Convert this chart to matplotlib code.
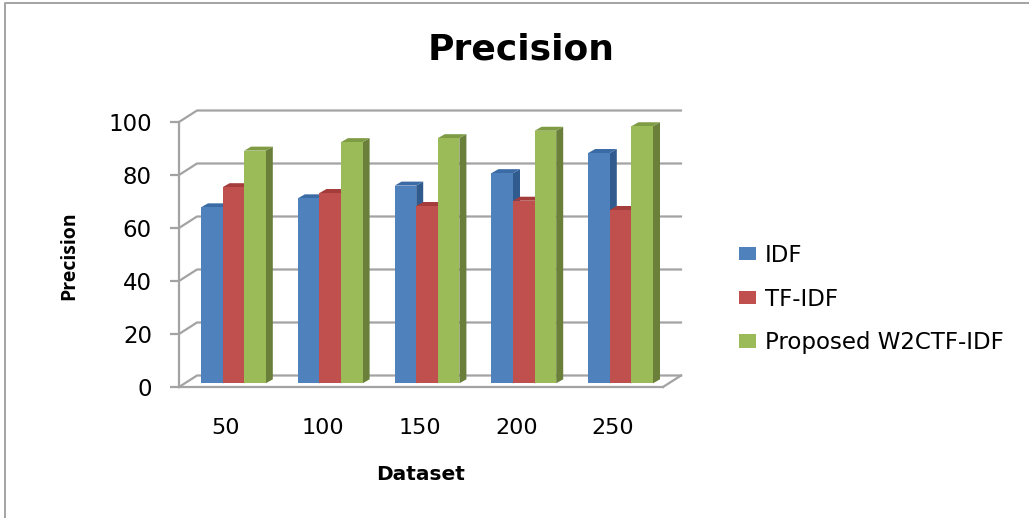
import matplotlib
matplotlib.use("Agg")
import matplotlib.pyplot as plt
from matplotlib.lines import Line2D
from matplotlib.transforms import ScaledTranslation
import numpy as np

datasets = ["50", "100", "150", "200", "250"]
idf = [66.4, 69.8, 74.6, 79.3, 86.9]
tf_idf = [74.0, 71.8, 66.9, 68.9, 65.4]
w2ctf_idf = [87.8, 91.0, 92.5, 95.3, 97.0]
series_names = ["IDF", "TF-IDF", "Proposed W2CTF-IDF"]
y_ticks = [0, 20, 40, 60, 80, 100]

grey = "#a3a3a3"
colors = [("#4f81bd", "#2f5b8f", "#3b6ba5"),
          ("#c0504d", "#8c3331", "#a33c3a"),
          ("#9bbb59", "#697f3a", "#7f9c44")]

W, H = 1029, 518
fig = plt.figure(figsize=(W / 100, H / 100), dpi=100)
ax = fig.add_axes([179 / W, (H - 387) / H, 484 / W, 265 / H])
ax.set_xlim(-0.5, 4.5)
ax.set_ylim(0, 100)

# pixel sizes of the fake 3d look, turned into data units
px_x = 5 / 484
px_y = 100 / 265
wall_dx, wall_dy = 18 * px_x, 11.5 * px_y
base_dx, base_dy = 6 * px_x, 3.7 * px_y
depth_dx, depth_dy = 7 * px_x, 4 * px_y
bar_w = 21.6 * px_x

# walls
for t in y_ticks:
    ax.plot([-0.5, -0.5 + wall_dx, 4.5 + wall_dx], [t, t + wall_dy, t + wall_dy],
            color=grey, lw=1.6, zorder=1, clip_on=False)
ax.plot([4.5, 4.5 + wall_dx], [0, wall_dy], color=grey, lw=1.6, zorder=1, clip_on=False)

# bars
x = np.arange(len(datasets))
handles = []
for i, vals in enumerate([idf, tf_idf, w2ctf_idf]):
    front, side, top = colors[i]
    left = x + base_dx + (i - 1.5) * bar_w
    z = 3 + i
    bars = ax.bar(left, vals, bar_w, bottom=base_dy, align="edge", color=front,
                  label=series_names[i], zorder=z + 0.5, clip_on=False)
    handles.append(bars)
    for l, v in zip(left, vals):
        y1 = base_dy + v
        r = l + bar_w
        ax.fill([r, r + depth_dx, r + depth_dx, r],
                [base_dy, base_dy + depth_dy, y1 + depth_dy, y1],
                color=side, lw=0, zorder=z, clip_on=False)
        ax.fill([l, l + depth_dx, r + depth_dx, r],
                [y1, y1 + depth_dy, y1 + depth_dy, y1],
                color=top, lw=0, zorder=z, clip_on=False)

# axes
for s in ["top", "right"]:
    ax.spines[s].set_visible(False)
for s in ["left", "bottom"]:
    ax.spines[s].set_color(grey)
    ax.spines[s].set_linewidth(1.6)
ax.patch.set_visible(False)
ax.set_yticks(y_ticks)
ax.set_xticks(x)
ax.set_xticklabels(datasets)
ax.tick_params(axis="y", length=6.5, width=1.6, color=grey, pad=13, labelsize=16.5)
ax.tick_params(axis="x", length=0, pad=22, labelsize=16)
for lab in ax.get_xticklabels():
    lab.set_transform(lab.get_transform() + ScaledTranslation(-0.015, 0, fig.dpi_scale_trans))

fig.text(521 / W, 1 - 49 / H, "Precision", fontsize=26, fontweight="bold",
         family="DejaVu Sans", ha="center", va="center")
fig.text(421 / W, 1 - 475 / H, "Dataset", fontsize=14.5, fontweight="bold",
         family="DejaVu Sans", ha="center", va="center")
fig.text(69 / W, 1 - 256 / H, "Precision", fontsize=14, fontweight="bold",
         family="Open Sans", rotation=90, ha="center", va="center")

fig.legend(handles=handles, loc="center left", bbox_to_anchor=(721 / W, 1 - 299 / H),
           frameon=False, fontsize=16.5, handlelength=0.74, handleheight=0.52,
           handletextpad=0.38, labelspacing=0.9, borderpad=0.3)

# picture frame, left and top only
fig.add_artist(Line2D([5 / W, 5 / W, 1], [0, 1 - 3 / H, 1 - 3 / H], color=grey, lw=1.4))

fig.savefig("out.png", dpi=100)
